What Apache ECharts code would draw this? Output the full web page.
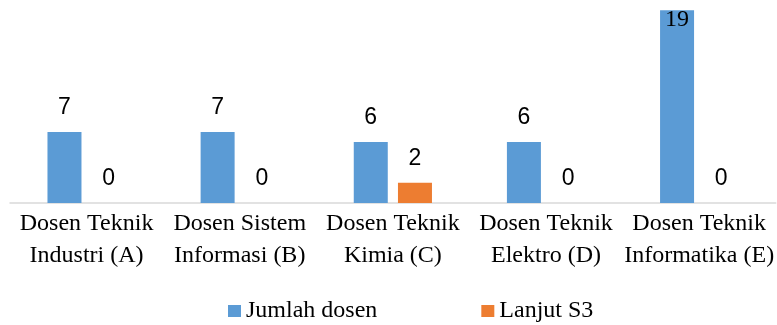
<!DOCTYPE html>
<html>
<head>
<meta charset="utf-8">
<script src="https://cdn.jsdelivr.net/npm/echarts@6/dist/echarts.min.js"></script>
<style>
  html, body { margin: 0; padding: 0; background: #fff; }
  #chart { width: 777px; height: 325px; }
</style>
</head>
<body>
<div id="chart"></div>
<script>
// data
var categories = [
  'Dosen Teknik\nIndustri (A)',
  'Dosen Sistem\nInformasi (B)',
  'Dosen Teknik\nKimia (C)',
  'Dosen Teknik\nElektro (D)',
  'Dosen Teknik\nInformatika (E)'
];
var jumlahDosen = [7, 7, 6, 6, 19];
var lanjutS3 = [0, 0, 2, 0, 0];
var seriesNames = ['Jumlah dosen', 'Lanjut S3'];

var serif = '"Liberation Serif", "Times New Roman", serif';
var sans = '"Liberation Sans", Arial, sans-serif';

// label biasa di atas batang; yang 19 masuk ke dalam batang (seperti di Excel)
var blueData = jumlahDosen.map(function (v) {
  if (v >= 19) {
    return {
      value: v,
      label: { position: 'insideTop', distance: -2, fontFamily: serif, fontSize: 24 }
    };
  }
  return v;
});

var chart = echarts.init(document.getElementById('chart'));
chart.setOption({
  animation: false,
  grid: { left: 10, right: 0, top: 0, bottom: 122, containLabel: false },
  legend: {
    left: 223,
    top: 294,
    itemWidth: 13,
    itemHeight: 12,
    itemGap: 104,
    icon: 'rect',
    textStyle: { fontFamily: serif, fontSize: 24, color: '#000' },
    data: seriesNames
  },
  xAxis: {
    type: 'category',
    data: categories,
    axisLine: { lineStyle: { color: '#d9d9d9', width: 1.5 } },
    axisTick: { show: false },
    axisLabel: {
      interval: 0,
      margin: 5,
      fontFamily: serif,
      fontSize: 24,
      lineHeight: 32,
      color: '#000'
    }
  },
  yAxis: {
    type: 'value',
    min: 0,
    max: 20,
    show: false,
    splitLine: { show: false }
  },
  series: [
    {
      name: seriesNames[0],
      type: 'bar',
      barWidth: 34,
      barGap: '30%',
      itemStyle: { color: '#5b9bd5' },
      label: {
        show: true,
        position: 'top',
        distance: 13,
        fontFamily: sans,
        fontSize: 23,
        color: '#000'
      },
      data: blueData
    },
    {
      name: seriesNames[1],
      type: 'bar',
      barWidth: 34,
      itemStyle: { color: '#ed7d31' },
      label: {
        show: true,
        position: 'top',
        distance: 13,
        fontFamily: sans,
        fontSize: 23,
        color: '#000'
      },
      data: lanjutS3
    }
  ]
});
</script>
</body>
</html>
